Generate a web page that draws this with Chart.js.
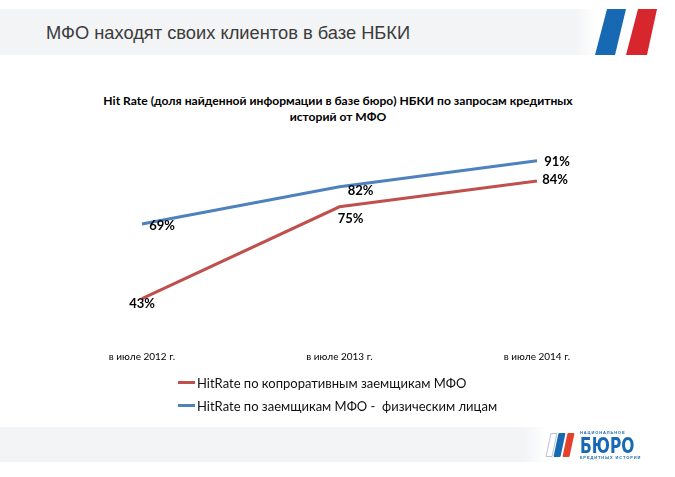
<!DOCTYPE html>
<html>
<head>
<meta charset="utf-8">
<title>МФО находят своих клиентов в базе НБКИ</title>
<script src="https://cdn.jsdelivr.net/npm/chart.js@4.4.1/dist/chart.umd.min.js"></script>
<style>
    html, body { margin: 0; padding: 0; background: #fff; }
    body { width: 675px; height: 477px; position: relative; overflow: hidden; font-family: Lato, sans-serif; }
    .band { position: absolute; left: 0; background: linear-gradient(to right, #f3f4f6 0%, #f3f4f6 96%, rgba(243,244,246,0) 100%); }
    .header-band { top: 9px; width: 598px; height: 46px; }
    .footer-band { top: 427px; width: 546px; height: 35px; }
    .header-title { position: absolute; left: 46px; top: 22px; font: 18.3px "Liberation Sans", Arial, sans-serif; color: #3b3b3b; white-space: nowrap; }
    .stripe { position: absolute; top: 9px; width: 31px; height: 46px; }
    .stripe.blue { left: 595px; background: #1769b3; clip-path: polygon(12px 0, 31px 0, 20px 46px, 0 46px); }
    .stripe.red { left: 626px; background: #d8262e; clip-path: polygon(12px 0, 31px 0, 21px 46px, 0 46px); }
    .chart-title { position: absolute; left: 38px; width: 600px; top: 93px; text-align: center; white-space: nowrap; font: bold 12.1px Lato, sans-serif; line-height: 16px; color: #000; }
    .folder { position: absolute; top: 433px; width: 7px; height: 24px; transform: skewX(-12deg); border-radius: 1px; }
    .folder.white { left: 548px; border: 1px solid #b8c4d4; width: 5px; height: 22px; }
    .folder.blue { left: 556px; background: #1769b3; }
    .folder.red { left: 565px; background: #e5402e; }
    .logo-text { position: absolute; left: 580px; color: #1769b3; white-space: nowrap; }
    .logo-small { font: bold 4px "Liberation Sans", Arial, sans-serif; letter-spacing: 0.9px; line-height: 4px; }
    .logo-big { top: 435px; font: bold 22px "Liberation Sans Narrow", "DejaVu Sans Condensed", sans-serif; transform: scaleX(0.78); transform-origin: left top; line-height: 22px; }
    #chart { position: absolute; left: 0; top: 0; }
    .legend { position: absolute; left: 178px; top: 371px; font-size: 13px; color: #111; }
    .legend-row { height: 23px; display: flex; align-items: center; white-space: pre; }
    .legend-mark { width: 17px; height: 3px; margin-right: 2px; }
</style>
</head>
<body>
<div class="band header-band"></div>
<div class="header-title">МФО находят своих клиентов в базе НБКИ</div>
<div class="stripe blue"></div>
<div class="stripe red"></div>

<div class="chart-title" id="chart-title"></div>
<canvas id="chart" width="675" height="477"></canvas>
<div class="legend" id="legend"></div>

<div class="band footer-band"></div>
<div class="folder white"></div>
<div class="folder blue"></div>
<div class="folder red"></div>
<div class="logo-text logo-small" style="top:431px">НАЦИОНАЛЬНОЕ</div>
<div class="logo-text logo-big">БЮРО</div>
<div class="logo-text logo-small" style="top:456px">КРЕДИТНЫХ ИСТОРИЙ</div>

<script>
var categories = ["в июле 2012 г.", "в июле 2013 г.", "в июле 2014 г."];
var corporateHitRate = [43, 75, 84];
var individualHitRate = [69, 82, 91];
var seriesNames = [
    "HitRate по копроративным заемщикам МФО",
    "HitRate по заемщикам МФО -  физическим лицам"
];
var chartTitle = [
    "Hit Rate (доля найденной информации в базе бюро) НБКИ по запросам кредитных",
    "историй от МФО"
];

// where each value label sits relative to its point (px)
var labelShifts = [
    [[0, 5], [11, 12], [18, -1]],
    [[20, 2], [21, 4], [20, 1]]
];

var valueLabels = {
    id: "valueLabels",
    afterDatasetsDraw: function (chart) {
        var ctx = chart.ctx;
        ctx.save();
        ctx.font = "bold 13px Lato";
        ctx.fillStyle = "#000";
        ctx.textAlign = "center";
        ctx.textBaseline = "middle";
        chart.data.datasets.forEach(function (ds, i) {
            var meta = chart.getDatasetMeta(i);
            meta.data.forEach(function (pt, j) {
                var s = labelShifts[i][j];
                ctx.fillText(ds.data[j] + "%", pt.x + s[0], pt.y + s[1]);
            });
        });
        ctx.restore();
    }
};

var config = {
    type: "line",
    data: {
        labels: categories,
        datasets: [{
            label: seriesNames[0],
            data: corporateHitRate,
            borderColor: "#c0504d",
            borderWidth: 3,
            pointRadius: 0,
            fill: false
        }, {
            label: seriesNames[1],
            data: individualHitRate,
            borderColor: "#4f81bd",
            borderWidth: 3,
            pointRadius: 0,
            fill: false
        }]
    },
    options: {
        responsive: false,
        animation: false,
        layout: { padding: { left: 142, right: 138, top: 135, bottom: 99 } },
        plugins: {
            legend: { display: false },
            tooltip: { enabled: false },
            title: { display: false }
        },
        scales: {
            x: {
                grid: { display: false, drawTicks: false },
                border: { display: false },
                ticks: { color: "#000", font: { family: "Lato", size: 10 }, padding: 15, maxRotation: 0, autoSkip: false }
            },
            y: { display: false, min: 30, max: 100 }
        }
    },
    plugins: [valueLabels]
};

var chart = new Chart(document.getElementById("chart").getContext("2d"), config);

document.getElementById("chart-title").innerHTML = chartTitle.join("<br>");

var legend = document.getElementById("legend");
chart.data.datasets.forEach(function (ds) {
    var row = document.createElement("div");
    row.className = "legend-row";
    var mark = document.createElement("span");
    mark.className = "legend-mark";
    mark.style.background = ds.borderColor;
    row.appendChild(mark);
    row.appendChild(document.createTextNode(ds.label));
    legend.appendChild(row);
});
</script>
</body>
</html>
